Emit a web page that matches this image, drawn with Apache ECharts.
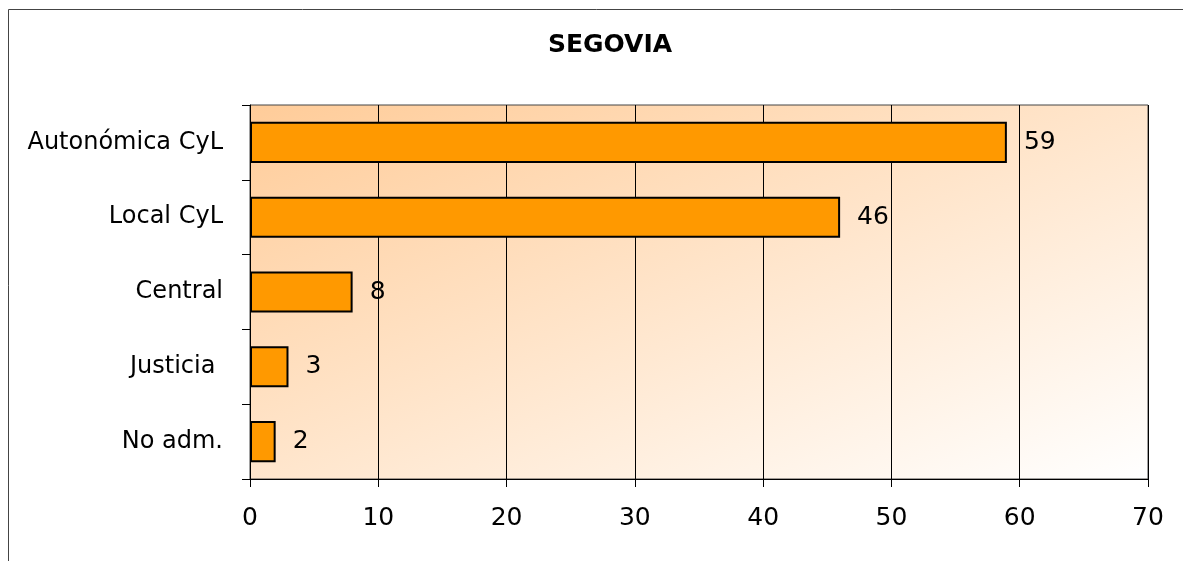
<!DOCTYPE html>
<html>
<head>
<meta charset="utf-8">
<style>
html,body{margin:0;padding:0;background:#fff;}
#c{width:1183px;height:561px;}
</style>
<script src="https://cdn.jsdelivr.net/npm/echarts@6/dist/echarts.min.js"></script>
</head>
<body>
<div id="c"></div>
<script>
const titleText = 'SEGOVIA';
const categories = ['Autonómica CyL', 'Local CyL', 'Central', 'Justicia ', 'No adm.'];
const values = [59, 46, 8, 3, 2];
const xTicks = [0, 10, 20, 30, 40, 50, 60, 70];

const chart = echarts.init(document.getElementById('c'), null, {renderer: 'canvas'});
const font = 'DejaVu Sans';
chart.setOption({
  animation: false,
  backgroundColor: '#fff',
  title: {
    text: titleText, left: 605, top: 28, textAlign: 'center',
    textStyle: {fontFamily: font, fontWeight: 'bold', fontSize: 25, color: '#000'}
  },
  graphic: [{
    type: 'rect', shape: {x: 8.5, y: 9.5, width: 1200, height: 600},
    style: {fill: 'none', stroke: '#444', lineWidth: 1}, silent: true, z: 100
  }],
  grid: {
    left: 250, top: 105, width: 898, height: 374, show: true,
    borderColor: '#444', borderWidth: 1,
    backgroundColor: new echarts.graphic.LinearGradient(250, 105, 515, 742, [
      {offset: 0, color: '#FFCC99'}, {offset: 1, color: '#FFFFFF'}
    ], true)
  },
  xAxis: {
    type: 'value', min: xTicks[0], max: xTicks[xTicks.length - 1], interval: 10,
    axisLine: {show: true, lineStyle: {color: '#000', width: 1}},
    axisTick: {show: true, length: 8, lineStyle: {color: '#000'}},
    axisLabel: {fontFamily: font, fontSize: 25, color: '#000', margin: 27},
    splitLine: {show: true, lineStyle: {color: '#000', width: 1}}
  },
  yAxis: {
    type: 'category', data: categories, inverse: true,
    axisLine: {show: true, lineStyle: {color: '#000', width: 1}},
    axisTick: {show: true, length: 8, alignWithLabel: false, lineStyle: {color: '#000'}},
    axisLabel: {fontFamily: font, fontSize: 24, color: '#000', margin: 27},
    splitLine: {show: false}
  },
  series: [{
    type: 'bar', data: values, barCategoryGap: '45%',
    itemStyle: {color: '#FF9900', borderColor: '#000', borderWidth: 2},
    label: {show: true, position: 'right', distance: 17, fontFamily: font, fontSize: 25, color: '#000'}
  }]
});
</script>
</body>
</html>
